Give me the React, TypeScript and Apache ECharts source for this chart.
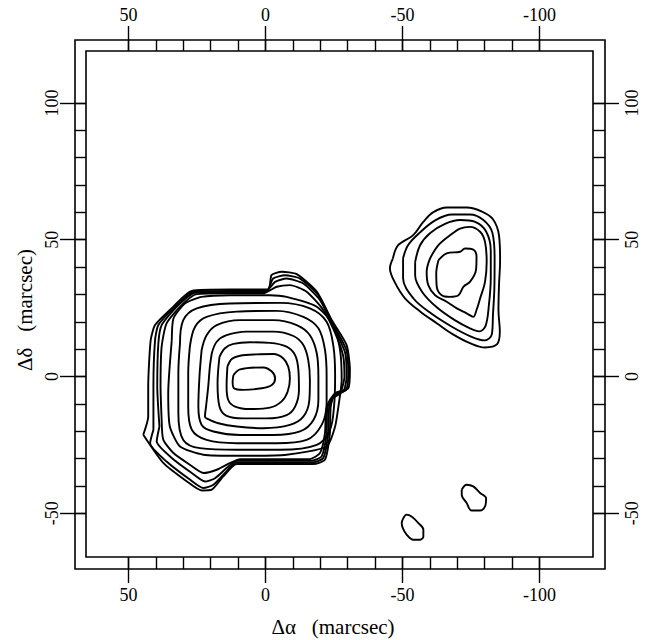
import React, { useEffect, useRef } from "react";
import * as echarts from "echarts";

// Axis extents (marcsec)
const X_MIN = -119.5;
const X_MAX = 65.5;
const Y_MIN = -66;
const Y_MAX = 119;

// Tick values
const X_MAJOR = [-100, -50, 0, 50];
const X_MINOR = [-100, -90, -80, -70, -60, -50, -40, -30, -20, -10, 0, 10, 20, 30, 40, 50];
const Y_MAJOR = [-50, 0, 50, 100];
const Y_MINOR = [-50, -40, -30, -20, -10, 0, 10, 20, 30, 40, 50, 60, 70, 80, 90, 100];

// Main component contours [Δα, Δδ]
const CORE_1 = [[11.7,0.5],[9.3,2.6],[0.8,3.3],[-2.3,1.8],[-3.5,-0.7],[-2.3,-3.1],[1.4,-4.3],[8.1,-4.9],[11.5,-4.3],[12,-1.9]];
const CORE_2 = [[13.9,3.6],[12.3,6.4],[9.3,7.6],[3.2,8.1],[-2.9,8.2],[-6.5,6.6],[-8.3,3.6],[-8.9,-0.7],[-8.1,-5.5],[-5.9,-9.1],[-1.6,-11.4],[5.7,-11.9],[11.1,-11],[13.6,-8.6],[14.2,-3.7]];
const CORE_3 = [[16.8,7.2],[14.8,10.3],[11.7,11.9],[5.7,12.5],[-1.6,12.3],[-7.7,10.9],[-10.8,7.8],[-12,2.4],[-12.2,-4.9],[-10.8,-11],[-7.7,-14.1],[-0.4,-15.3],[8.1,-15.3],[14.2,-14.4],[16.8,-11],[17.5,-2.5]];
const CORE_4 = [[19.6,8.5],[17.8,12.7],[14.2,15.1],[6.9,16.4],[-2.9,16.4],[-10.2,14.8],[-13.8,11.5],[-15.6,6],[-16.2,-1.3],[-16,-8.6],[-13.8,-14.7],[-8.9,-17.7],[0.8,-18.9],[10.5,-18.3],[17.2,-17.1],[20.9,-15.6],[22.1,-14.7],[21.7,-11],[20.9,-3.7],[20.3,3.6]];
const CORE_5 = [[23.3,9.7],[21.5,15.1],[17.8,18.8],[9.3,20.6],[-2.9,20.6],[-11.4,18.8],[-16.2,15.1],[-18.7,8.5],[-19.3,-0.1],[-19.3,-8.6],[-17.5,-15.9],[-12.6,-20.1],[-2.9,-21.4],[9.3,-21.4],[19,-20.1],[23.3,-17.7],[24.5,-11],[24.1,-0.1]];
const CORE_6 = [[27.6,10.9],[25.7,18.2],[21.5,21.8],[10.5,23.7],[-4.1,24],[-13.8,21.8],[-19.3,17.6],[-21.7,9.7],[-22.3,-0.1],[-22.3,-9.8],[-20.5,-17.7],[-15,-23.2],[-4.1,-24.4],[10.5,-24.4],[21.5,-23.2],[26.9,-19.5],[28.2,-11],[28.2,1.2]];
const CORE_7 = [[31.2,12.1],[30,20.6],[25.1,24.9],[13,26.7],[-5.3,26.9],[-16.2,24.9],[-22.3,20],[-24.8,10.9],[-25.4,-0.1],[-25,-11],[-23.5,-19.5],[-18.7,-25],[-5.3,-26.8],[10.5,-26.8],[23.9,-26.2],[30,-23.2],[31.8,-13.4],[31.8,1.2]];
const CORE_8 = [[34.2,13.3],[33.6,21.2],[29.4,26.7],[23.3,29.1],[13,29.7],[-1.6,29.7],[-7.7,29.1],[-18.7,25.5],[-24.8,18.8],[-27.2,9.7],[-27.8,-1.3],[-26.6,-11],[-25.4,-18.3],[-22.3,-25.6],[-7.7,-28.6],[9.3,-29],[22.7,-28.6],[31.2,-25.6],[34.9,-18.3],[35.5,-6.1]];
const CORE_9 = [[37.9,-15.9],[38.3,-3.7],[37.9,10.9],[36.1,19.4],[30.6,26.1],[25.1,30.1],[13,30.4],[0.8,30.4],[-4.1,32.8],[-8.9,33.4],[-15,31],[-21.1,24.3],[-26,14.5],[-28.4,7.2],[-28.8,-0.1],[-27.2,-6.1],[-23.5,-8.6],[-22.1,-12.2],[-21.7,-20.7],[-19.9,-28],[-16.2,-30.2],[9.3,-30.2],[13,-31.7],[17.8,-34.1],[22.7,-35.3],[27.6,-32.3],[33.6,-28],[37.3,-23.1]];
const CORE_10 = [[38.7,-18.3],[39.5,-3.7],[39.1,12.1],[37.9,18.8],[32.4,25.5],[25.7,30.6],[13,30.9],[0.2,30.9],[-3.5,34.6],[-7.7,35.8],[-13.8,34],[-19.9,27.9],[-25.4,17],[-29.1,8.5],[-29.6,-0.1],[-28.4,-5.5],[-24.1,-7.6],[-22.5,-12.2],[-22.3,-20.7],[-20.5,-29.2],[-16.9,-30.8],[10.5,-30.8],[14.2,-33.5],[18.4,-37.2],[22.1,-38.4],[26.9,-35.3],[34.2,-29.8],[39.7,-23.8]];
const CORE_11 = [[40.9,-19.5],[40.9,-3.7],[40.3,13.3],[39.1,18.8],[33.6,24.9],[26.3,31],[13,31.3],[-0.4,31.3],[-2.8,35.8],[-7.1,37],[-12.6,35.8],[-19.3,29.7],[-24.8,18.8],[-29.5,9.7],[-30.2,1.1],[-29.4,-4.9],[-24.8,-6.7],[-23.2,-11.6],[-22.9,-20.7],[-21.1,-29.8],[-17.2,-31.4],[10.5,-31.4],[14.8,-35.3],[19,-39.6],[22.7,-40.8],[27.6,-37.7],[36.1,-31.1],[42.1,-24.4]];
const CORE_12 = [[44.6,-21.3],[42.8,-14.7],[42.8,-3.7],[41.9,13.3],[40.3,18.8],[34.9,24.3],[26.9,31.3],[13,31.8],[-1,31.8],[-2.2,37.1],[-5.9,38.3],[-11.4,37.4],[-18.7,31],[-24.2,20.6],[-29.6,11.5],[-30.8,2.4],[-30.2,-4.3],[-25.4,-6.1],[-23.8,-11],[-23.5,-20.7],[-21.7,-30.4],[-17.5,-32],[10.5,-32],[15.4,-36.5],[19.6,-41.4],[23.3,-41.7],[28.8,-38.3],[37.3,-31.6]];

// North-east component contours
const NE_1 = [[-63.1,42.5],[-66.1,45],[-71,45.6],[-72.8,46.8],[-75.8,46.4],[-77,43.7],[-76.8,38.9],[-74.6,34.6],[-72.2,32.8],[-70.4,29.7],[-67.3,29.1],[-64.3,29.7],[-62.5,32.8],[-62.3,37.7]];
const NE_2 = [[-60,43.1],[-63.1,48],[-67.3,51.6],[-71,54.1],[-74.6,54.7],[-78.3,52.9],[-80.1,49.2],[-80.7,41.9],[-80.1,34.6],[-78.3,28.5],[-77,24.3],[-75.8,21.8],[-73.4,23.1],[-69.8,24.9],[-66.1,27.3],[-61.9,29.7],[-59.4,33.4],[-58.8,38.3]];
const NE_3 = [[-54.6,41.8],[-56.4,48],[-60,52.4],[-65.5,55.8],[-71,57.2],[-76.5,56.5],[-80.5,53],[-82.2,46],[-82.2,36],[-81.5,26],[-80.3,18.5],[-78,16.5],[-74.6,17.6],[-69.2,20.5],[-62.6,25.2],[-57.1,31],[-54.6,37]];
const NE_4 = [[-50.2,43.2],[-52,48],[-56.4,52.7],[-61.9,57.1],[-68.1,59.2],[-74.6,59.2],[-79.5,57.2],[-82.8,52.5],[-83.6,43],[-83.5,32],[-83,22.5],[-82.6,15.5],[-80,13.2],[-75,14.6],[-68,18.2],[-60.5,23],[-54,28.5],[-50.2,35.9]];
const NE_5 = [[-46.5,43.2],[-48.4,48],[-53.8,51.6],[-57.5,56.4],[-61.1,60],[-66.2,61.8],[-73.5,61.8],[-79,60.3],[-83,57.5],[-85.2,51.6],[-85.6,42.5],[-85.2,33.4],[-85,24.3],[-85.5,16.5],[-84.5,11.8],[-80.1,10.6],[-74.6,12.2],[-68.1,15.6],[-62.6,19.4],[-56.4,23.8],[-50.9,28.6],[-47.3,34.2],[-45.4,39.6]];

// Small southern components
const BLOB_E = [[-71.6,-41.4],[-73.4,-39.6],[-75.8,-40.2],[-78.3,-42.6],[-80.5,-44.5],[-80.1,-47.5],[-78.3,-49],[-75.2,-49],[-73.4,-46.3],[-71.6,-43.2]];
const BLOB_W = [[-50.3,-51.8],[-51.5,-50.5],[-53.3,-51.2],[-55.8,-53.6],[-57.6,-56],[-57.6,-58.5],[-56.4,-59.7],[-53.9,-59.7],[-51.5,-57.8],[-50.1,-55.4],[-49.7,-53.6]];

// Inner (rounder) contours and the tightly packed outer contours
const SOFT_CONTOURS = [CORE_1, CORE_2, CORE_3, CORE_4, CORE_5, CORE_6, CORE_7, NE_1, NE_2, NE_3, NE_4, NE_5, BLOB_E, BLOB_W];
const EDGE_CONTOURS = [CORE_8, CORE_9, CORE_10, CORE_11, CORE_12];

const X_TITLE = "Δα   (marcsec)";
const Y_TITLE = "Δδ   (marcsec)";

const FONT = "'Liberation Serif', 'Times New Roman', serif";

function xAxisDef(position: string, values: number[], len: number, withLabels: boolean) {
  return {
    type: "value",
    position,
    min: X_MIN,
    max: X_MAX,
    inverse: true,
    axisLine: { show: false, onZero: false },
    splitLine: { show: false },
    axisTick: { show: true, inside: false, length: len, customValues: values, lineStyle: { color: "#000", width: 1.4 } },
    axisLabel: withLabels
      ? { show: true, customValues: values, margin: position === "bottom" ? 29 : 27, color: "#000", fontFamily: FONT, fontSize: 18 }
      : { show: false },
  };
}

function yAxisDef(position: string, values: number[], len: number, withLabels: boolean) {
  return {
    type: "value",
    position,
    min: Y_MIN,
    max: Y_MAX,
    axisLine: { show: false, onZero: false },
    splitLine: { show: false },
    axisTick: { show: true, inside: false, length: len, customValues: values, lineStyle: { color: "#000", width: 1.4 } },
    axisLabel: withLabels
      ? { show: true, customValues: values, rotate: 90, margin: position === "left" ? 25 : 30, color: "#000", fontFamily: FONT, fontSize: 18 }
      : { show: false },
  };
}

function contourSeries(pts: number[][], smooth: number) {
  return {
    type: "line",
    xAxisIndex: 0,
    yAxisIndex: 0,
    data: [...pts, pts[0]],
    symbol: "none",
    showSymbol: false,
    smooth,
    silent: true,
    lineStyle: { color: "#000", width: 1.9 },
  };
}

export default function App() {
  const ref = useRef<HTMLDivElement>(null);
  useEffect(() => {
    if (!ref.current) return;
    const chart = echarts.init(ref.current, null, { renderer: "svg" });
    const series = [
      ...SOFT_CONTOURS.map((pts) => contourSeries(pts, 0.35)),
      ...EDGE_CONTOURS.map((pts) => contourSeries(pts, 0.2)),
    ];
    chart.setOption({
      animation: false,
      backgroundColor: "#fff",
      grid: { left: 86, top: 51, width: 507, height: 506, show: true, borderColor: "#000", borderWidth: 1.6, backgroundColor: "transparent" },
      xAxis: [
        xAxisDef("bottom", X_MINOR, 12, false),
        xAxisDef("bottom", X_MAJOR, 26, true),
        xAxisDef("top", X_MINOR, 11, false),
        xAxisDef("top", X_MAJOR, 25, true),
      ],
      yAxis: [
        yAxisDef("left", Y_MINOR, 11, false),
        yAxisDef("left", Y_MAJOR, 26, true),
        yAxisDef("right", Y_MINOR, 12, false),
        yAxisDef("right", Y_MAJOR, 26, true),
      ],
      graphic: [
        { type: "rect", shape: { x: 75, y: 40, width: 530, height: 529 }, style: { fill: "none", stroke: "#000", lineWidth: 1.6 }, silent: true },
        { type: "text", x: 333, y: 627, style: { text: X_TITLE, fontFamily: FONT, fontSize: 21, fill: "#000", align: "center", verticalAlign: "middle" } },
        { type: "text", x: 25, y: 310, rotation: Math.PI / 2, style: { text: Y_TITLE, fontFamily: FONT, fontSize: 21, fill: "#000", align: "center", verticalAlign: "middle" } },
      ],
      series,
    });
    return () => chart.dispose();
  }, []);
  return <div ref={ref} style={{ position: "absolute", left: 0, top: 0, width: 654, height: 640 }} />;
}
